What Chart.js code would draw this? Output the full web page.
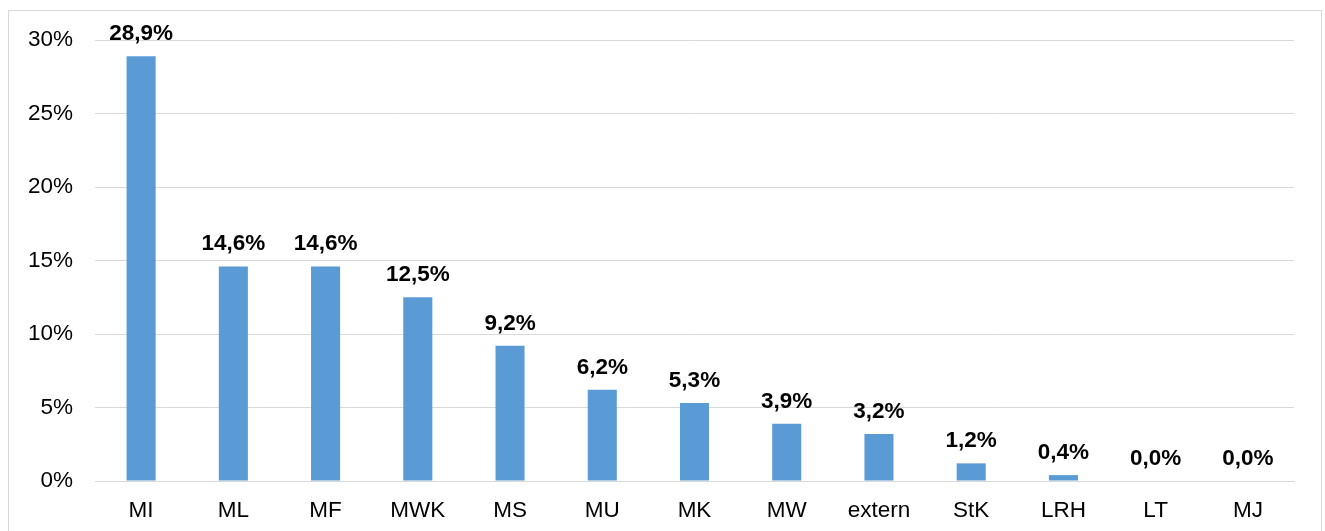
<!DOCTYPE html>
<html>
<head>
<meta charset="utf-8">
<script src="https://cdn.jsdelivr.net/npm/chart.js@4.4.0/dist/chart.umd.min.js"></script>
<style>
  html, body { margin: 0; padding: 0; background: #ffffff; }
  #wrap { position: relative; width: 1325px; height: 531px; }
</style>
</head>
<body>
<div id="wrap"><canvas id="c" width="1325" height="531"></canvas></div>
<script>
const categories = ["MI", "ML", "MF", "MWK", "MS", "MU", "MK", "MW", "extern", "StK", "LRH", "LT", "MJ"];
const shares = [28.9, 14.6, 14.6, 12.5, 9.2, 6.2, 5.3, 3.9, 3.2, 1.2, 0.4, 0.0, 0.0];
const yTicks = [0, 5, 10, 15, 20, 25, 30];

const FONT = "'Liberation Sans', Arial, sans-serif";

const frame = {
  id: 'frame',
  beforeDraw(chart) {
    const ctx = chart.ctx;
    ctx.save();
    ctx.strokeStyle = '#d9d9d9';
    ctx.lineWidth = 1;
    ctx.strokeRect(8.5, 10.5, 1313, 540);
    ctx.restore();
  }
};

const valueLabels = {
  id: 'valueLabels',
  afterDatasetsDraw(chart) {
    const ctx = chart.ctx;
    const meta = chart.getDatasetMeta(0);
    ctx.save();
    ctx.font = "bold 22.5px " + FONT;
    ctx.fillStyle = '#000000';
    ctx.textAlign = 'center';
    ctx.textBaseline = 'alphabetic';
    meta.data.forEach((bar, i) => {
      const v = chart.data.datasets[0].data[i];
      const txt = v.toFixed(1).replace('.', ',') + '%';
      ctx.fillText(txt, bar.x, bar.y - 16);
    });
    ctx.restore();
  }
};

new Chart(document.getElementById('c'), {
  type: 'bar',
  data: {
    labels: categories,
    datasets: [{
      data: shares,
      backgroundColor: '#5b9bd5',
      borderWidth: 0,
      barPercentage: 1,
      categoryPercentage: 0.315
    }]
  },
  options: {
    responsive: false,
    animation: false,
    devicePixelRatio: 1,
    layout: { padding: { top: 40, right: 31, bottom: 0, left: 0 } },
    plugins: { legend: { display: false }, tooltip: { enabled: false } },
    scales: {
      x: {
        afterFit(scale) { scale.height = 50; },
        grid: { display: false, drawTicks: false },
        border: { display: true, color: '#d9d9d9', width: 1 },
        ticks: { color: '#000000', font: { family: FONT, size: 22.5 }, padding: 16, maxRotation: 0, autoSkip: false }
      },
      y: {
        min: 0, max: 30,
        afterBuildTicks(scale) { scale.ticks = yTicks.map(v => ({ value: v })); },
        afterFit(scale) { scale.width = 95; },
        grid: { color: '#d9d9d9', lineWidth: 1, drawTicks: false },
        border: { display: false },
        ticks: { color: '#000000', font: { family: FONT, size: 22.5 }, padding: 22, callback: v => v + '%' }
      }
    }
  },
  plugins: [frame, valueLabels]
});
</script>
</body>
</html>
